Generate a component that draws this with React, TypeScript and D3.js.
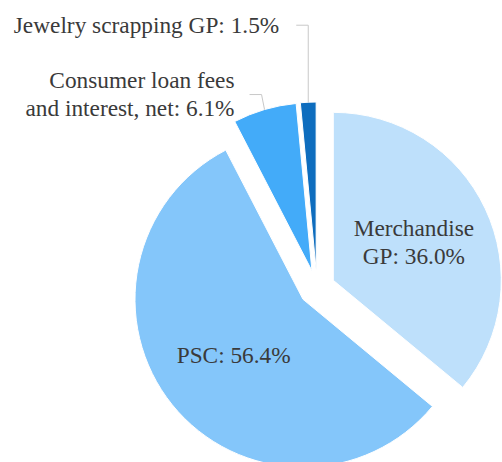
import React from "react";
import * as d3 from "d3";

const categories = ["Merchandise GP", "PSC", "Consumer loan fees and interest, net", "Jewelry scrapping GP"];
const values = [36.0, 56.4, 6.1, 1.5];
const labelLines = [
  ["Merchandise", "GP: 36.0%"],
  ["PSC: 56.4%"],
  ["Consumer loan fees", "and interest, net: 6.1%"],
  ["Jewelry scrapping GP: 1.5%"],
];
const colors = ["#BEE0FB", "#84C6FA", "#43ABF9", "#0E6DBE"];

// layout
const W = 502;
const H = 462;
const CX = 317;
const CY = 288;
const R = 168;
const EXPLODE = 18;
const FONT = 22;
const TEXT_SCALE = 1.06;
const LH = 26.5;
const TEXT_COLOR = "#3a3a3a";
// outside label leader geometry (index -> settings), inside labels use radius fraction
const outside: Record<number, { elbowDx: number; elbowDy: number; tail: number; gap: number }> = {
  2: { elbowDx: -3, elbowDy: -15, tail: 12, gap: 15 },
  3: { elbowDx: 0, elbowDy: -77, tail: 12, gap: 17 },
};
const INSIDE_FRAC = 0.53;

function Label({ x, y, lines, anchor }: { x: number; y: number; lines: string[]; anchor: "middle" | "end" }) {
  const n = lines.length;
  return (
    <g transform={`translate(${x},${y}) scale(${TEXT_SCALE})`}>
      {lines.map((t, j) => (
        <text
          key={j}
          x={0}
          y={(j - (n - 1) / 2) * LH + FONT * 0.33}
          style={{ fontFamily: '"Liberation Serif"', fontSize: FONT, fill: TEXT_COLOR, textAnchor: anchor }}
        >
          {t}
        </text>
      ))}
    </g>
  );
}

export default function App() {
  const pie = d3.pie<number>().sort(null).value((d) => d);
  const arcs = pie(values);
  const arcGen = d3.arc<d3.PieArcDatum<number>>().innerRadius(0).outerRadius(R);

  return (
    <svg width={W} height={H} style={{ position: "absolute", left: 0, top: 0 }}>
      {arcs.map((a, i) => {
        const mid = (a.startAngle + a.endAngle) / 2;
        const ux = Math.sin(mid);
        const uy = -Math.cos(mid);
        const vx = CX + EXPLODE * ux;
        const vy = CY + EXPLODE * uy;
        return (
          <path
            key={categories[i]}
            d={arcGen(a) || ""}
            transform={`translate(${vx},${vy})`}
            fill={colors[i]}
            stroke="#fff"
            strokeWidth={1}
          />
        );
      })}
      {arcs.map((a, i) => {
        const mid = (a.startAngle + a.endAngle) / 2;
        const ux = Math.sin(mid);
        const uy = -Math.cos(mid);
        const vx = CX + EXPLODE * ux;
        const vy = CY + EXPLODE * uy;
        const lines = labelLines[i];
        const o = outside[i];
        if (!o) {
          const lx = vx + INSIDE_FRAC * R * ux;
          const ly = vy + INSIDE_FRAC * R * uy;
          return <Label key={"l" + i} x={lx} y={ly} lines={lines} anchor="middle" />;
        }
        const ax = vx + R * ux;
        const ay = vy + R * uy;
        const ex = ax + o.elbowDx;
        const ey = ay + o.elbowDy;
        const tx = ex - o.tail;
        const textX = tx - o.gap;
        return (
          <g key={"l" + i}>
            <polyline
              points={`${ax},${ay} ${ex},${ey} ${tx},${ey}`}
              fill="none"
              stroke="#c8c8c8"
              strokeWidth={1}
            />
            <Label x={textX} y={ey} lines={lines} anchor="end" />
          </g>
        );
      })}
    </svg>
  );
}
